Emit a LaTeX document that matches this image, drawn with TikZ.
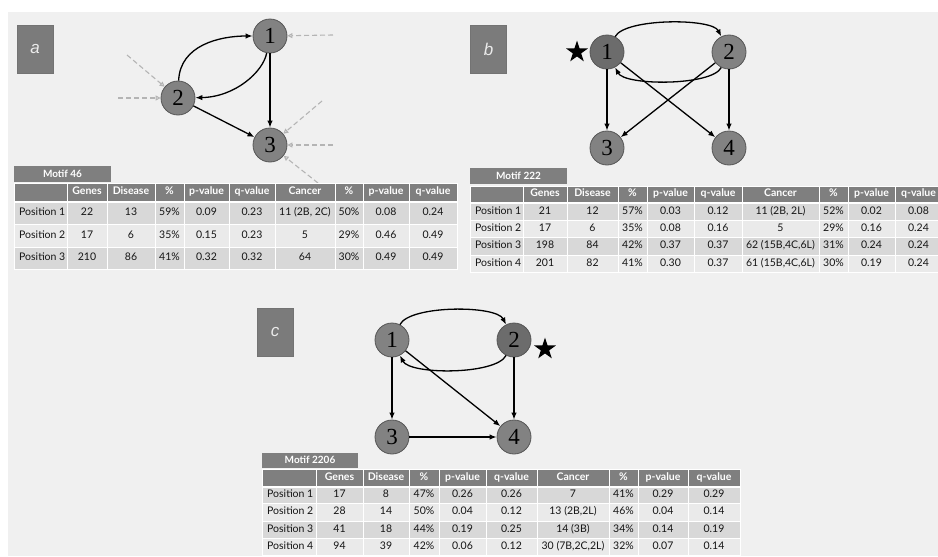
\documentclass[tikz,border=0pt]{standalone}
\usepackage{fontspec}
\newfontfamily\tabfont{Lato}
\newfontfamily\numfont{Liberation Serif}
\newfontfamily\lblfont{Liberation Sans}
\usetikzlibrary{arrows.meta,shapes.geometric}
\definecolor{bg}{HTML}{F0F0F0}
\definecolor{hdgray}{HTML}{7F7F7F}
\definecolor{rowdark}{HTML}{D8D8D8}
\definecolor{rowlight}{HTML}{EAEAEA}
\definecolor{nodegray}{HTML}{828282}
\definecolor{nodedark}{HTML}{6C6C6C}
\definecolor{nodeedge}{HTML}{555555}
\definecolor{lblgray}{HTML}{7B7B7B}
\definecolor{dashgray}{HTML}{B4B4B4}
\definecolor{celltext}{HTML}{151515}
\tikzset{
  mnode/.style={circle, fill=nodegray, draw=nodeedge, line width=0.8pt, minimum size=34pt, inner sep=0pt,
    font=\numfont\fontsize{23}{24}\selectfont},
  mnodestar/.style={mnode, fill=nodedark},
  edge/.style={draw=black, line width=1.3pt, -{Latex[length=7pt,width=5.5pt]}},
  feed/.style={draw=dashgray, dash pattern=on 5pt off 3pt, line width=1.1pt, -{Triangle[open,length=5pt,width=5pt]}},
  lbl/.style={fill=lblgray, draw=black!55, line width=0.4pt, minimum width=36pt, minimum height=48pt, inner sep=0pt,
    text=white!92!black, font=\lblfont\itshape\fontsize{17}{17}\selectfont},
  starmark/.style={star, star points=5, star point ratio=2.6, fill=black, minimum size=23pt, inner sep=0pt},
  motif/.style={fill=hdgray, inner sep=0pt, text=white, font=\tabfont\bfseries\fontsize{10}{11}\selectfont},
  hdtxt/.style={text=white, font=\tabfont\bfseries\fontsize{10.5}{11}\selectfont, inner sep=0pt, text height=1.6ex, text depth=0.4ex},
  celltxt/.style={text=celltext, font=\tabfont\fontsize{10.5}{11}\selectfont, inner sep=0pt, text height=1.6ex, text depth=0.4ex},
}
% header row: #1 name prefix, #2 column array, #3 ytop, #4 ybottom, #5 cells
\newcommand\mkhead[5]{%
  \foreach \cell [count=\c from 0] in {#5} {%
    \pgfmathsetmacro\xa{#2[\c]}%
    \pgfmathsetmacro\xb{#2[\c+1]}%
    \path[fill=hdgray, draw=white, line width=1pt] (\xa,#3) rectangle (\xb,#4);
    \node[hdtxt] (#1-\c) at ({(\xa+\xb)/2},{(#3+#4)/2}) {\cell};
  }}
% body row: #1 name prefix, #2 column array, #3 ytop, #4 ybottom, #5 fill colour, #6 cells
\newcommand\mkrow[6]{%
  \foreach \cell [count=\c from 0] in {#6} {%
    \pgfmathsetmacro\xa{#2[\c]}%
    \pgfmathsetmacro\xb{#2[\c+1]}%
    \path[fill=#5, draw=white, line width=1pt] (\xa,#3) rectangle (\xb,#4);
    \ifnum\c=0
      \node[celltxt, anchor=west] (#1-\c) at ({\xa+5},{(#3+#4)/2}) {\cell};
    \else
      \node[celltxt] (#1-\c) at ({(\xa+\xb)/2},{(#3+#4)/2}) {\cell};
    \fi
  }}
\begin{document}
\begin{tikzpicture}[x=1pt,y=-1pt]
\useasboundingbox (0,0) rectangle (938,557);
\clip (0,0) rectangle (938,557);
\fill[white] (0,0) rectangle (938,557);
\fill[bg] (8,12) rectangle (938,556);

% ---------------- panel a ----------------
\node[lbl] (la) at (35,49) {a};
\node[mnode] (a1) at (270,36) {1};
\node[mnode] (a2) at (178,98) {2};
\node[mnode] (a3) at (270,145) {3};
\draw[edge] (a2) .. controls (180,45) and (220,36) .. (a1);
\draw[edge] (a1) .. controls (263,72) and (235,97) .. (a2);
\draw[edge] (a1) -- (a3);
\draw[edge] (a2) -- (a3);
\coordinate (f1) at (333,35);
\coordinate (f2) at (127,55);
\coordinate (f3) at (118,98);
\coordinate (f4) at (322,101);
\coordinate (f5) at (333,145);
\coordinate (f6) at (318,183);
\draw[feed] (f1) -- (a1);
\draw[feed] (f2) -- (a2);
\draw[feed] (f3) -- (a2);
\draw[feed] (f4) -- (a3);
\draw[feed] (f5) -- (a3);
\draw[feed] (f6) -- (a3);

\def\colsA{{14,67,107,155,184,229,275,335,363,409,457}}
\node[motif, minimum width=97pt, minimum height=16pt] (ta-m) at (62.5,174) {Motif 46};
\mkhead{ta-h}{\colsA}{183}{201}{{},Genes,Disease,\%,p-value,q-value,Cancer,\%,p-value,q-value}
\mkrow{ta-1}{\colsA}{202}{224}{rowdark}{{Position 1},22,13,59\%,0.09,0.23,{11 (2B, 2C)},50\%,0.08,0.24}
\mkrow{ta-2}{\colsA}{224}{247}{rowlight}{{Position 2},17,6,35\%,0.15,0.23,5,29\%,0.46,0.49}
\mkrow{ta-3}{\colsA}{247}{269}{rowdark}{{Position 3},210,86,41\%,0.32,0.32,64,30\%,0.49,0.49}

% ---------------- panel b ----------------
\node[lbl] (lb) at (488.5,49.5) {b};
\node[starmark] (bstar) at (577,52) {};
\node[mnodestar] (b1) at (607,52) {1};
\node[mnode] (b2) at (729,52) {2};
\node[mnode] (b3) at (607,148) {3};
\node[mnode] (b4) at (729,148) {4};
\draw[edge] (b1) .. controls (625,18) and (712,18) .. (b2);
\draw[edge] (b2) .. controls (712,86) and (625,86) .. (b1);
\draw[edge] (b1) -- (b3);
\draw[edge] (b2) -- (b4);
\draw[edge] (b1) -- (b4);
\draw[edge] (b2) -- (b3);

\def\colsB{{470,523,567,618,647,694,742,819,848,895,942}}
\node[motif, minimum width=97pt, minimum height=16pt] (tb-m) at (518.5,175.5) {Motif 222};
\mkhead{tb-h}{\colsB}{186}{202}{{},Genes,Disease,\%,p-value,q-value,Cancer,\%,p-value,q-value}
\mkrow{tb-1}{\colsB}{203}{220}{rowdark}{{Position 1},21,12,57\%,0.03,0.12,{11 (2B, 2L)},52\%,0.02,0.08}
\mkrow{tb-2}{\colsB}{220}{237}{rowlight}{{Position 2},17,6,35\%,0.08,0.16,5,29\%,0.16,0.24}
\mkrow{tb-3}{\colsB}{237}{255}{rowdark}{{Position 3},198,84,42\%,0.37,0.37,{62 (15B,4C,6L)},31\%,0.24,0.24}
\mkrow{tb-4}{\colsB}{255}{272}{rowlight}{{Position 4},201,82,41\%,0.30,0.37,{61 (15B,4C,6L)},30\%,0.19,0.24}

% ---------------- panel c ----------------
\node[lbl] (lc) at (275,332) {c};
\node[starmark] (cstar) at (545,349) {};
\node[mnode] (c1) at (392,340) {1};
\node[mnodestar] (c2) at (514,340) {2};
\node[mnode] (c3) at (392,437) {3};
\node[mnode] (c4) at (514,437) {4};
\draw[edge] (c1) .. controls (410,305) and (496,305) .. (c2);
\draw[edge] (c2) .. controls (496,375) and (410,375) .. (c1);
\draw[edge] (c1) -- (c3);
\draw[edge] (c2) -- (c4);
\draw[edge] (c1) -- (c4);
\draw[edge] (c3) -- (c4);

\def\colsC{{262,316,363,409,439,486,537,609,638,688,740}}
\node[motif, minimum width=96pt, minimum height=15pt] (tc-m) at (310,460) {Motif 2206};
\mkhead{tc-h}{\colsC}{469}{486}{{},Genes,Disease,\%,p-value,q-value,Cancer,\%,p-value,q-value}
\mkrow{tc-1}{\colsC}{487}{503}{rowdark}{{Position 1},17,8,47\%,0.26,0.26,7,41\%,0.29,0.29}
\mkrow{tc-2}{\colsC}{503}{521}{rowlight}{{Position 2},28,14,50\%,0.04,0.12,{13 (2B,2L)},46\%,0.04,0.14}
\mkrow{tc-3}{\colsC}{521}{538}{rowdark}{{Position 3},41,18,44\%,0.19,0.25,{14 (3B)},34\%,0.14,0.19}
\mkrow{tc-4}{\colsC}{538}{555}{rowlight}{{Position 4},94,39,42\%,0.06,0.12,{30 (7B,2C,2L)},32\%,0.07,0.14}
\end{tikzpicture}
\end{document}
